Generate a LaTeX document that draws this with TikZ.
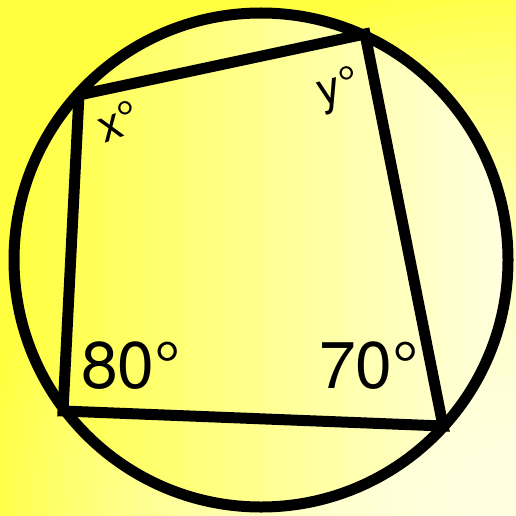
\documentclass[tikz,border=0pt]{standalone}
\usepackage{fontspec}
\setmainfont{TeX Gyre Heros}
\definecolor{yel}{HTML}{FFFF40}
\definecolor{pale}{HTML}{FFFFE2}
\tikzset{
  outline/.style={draw=black, line width=11pt},
  quad/.style={draw=black, line width=11pt, line join=miter},
  biglbl/.style={inner sep=0pt, anchor=base west, font=\fontsize{66}{70}\selectfont},
  smalllbl/.style={inner sep=0pt, font=\fontsize{46}{50}\selectfont}
}
\begin{document}
\begin{tikzpicture}[x=1pt,y=-1pt]
\useasboundingbox (0,0) rectangle (516,516);
% background: radial fade from bottom-right corner
\begin{scope}
  \clip (0,0) rectangle (516,516);
  \fill[yel] (0,0) rectangle (516,516);
  \foreach \i in {0,...,37} {
    \pgfmathsetmacro\r{560-15*\i}
    \pgfmathtruncatemacro\p{max(0,100*(1-(\r/540)^2))}
    \fill[pale!\p!yel] (516,516) circle (\r);
  }
\end{scope}
% circle interior: horizontal fade
\begin{scope}
  \clip (261,260) circle (247);
  \foreach \i in {0,...,49} {
    \pgfmathsetmacro\xa{13+10*\i}
    \pgfmathtruncatemacro\p{2*\i+1}
    \fill[pale!\p!yel] (\xa,0) rectangle ++(10.6,516);
  }
\end{scope}
\draw[outline] (261,260) circle (247);
\coordinate (A) at (79,95);
\coordinate (B) at (365,34);
\coordinate (C) at (443,426);
\coordinate (D) at (63,411);
\draw[quad] (A) -- (B) -- (C) -- (D) -- cycle;
\node[smalllbl, rotate=20] (x) at (118,121) {x°};
\node[smalllbl, rotate=15] (y) at (339,90) {y°};
\node[biglbl] (a80) at (81,388) {80°};
\node[biglbl] (a70) at (319,388) {70°};
\end{tikzpicture}
\end{document}
